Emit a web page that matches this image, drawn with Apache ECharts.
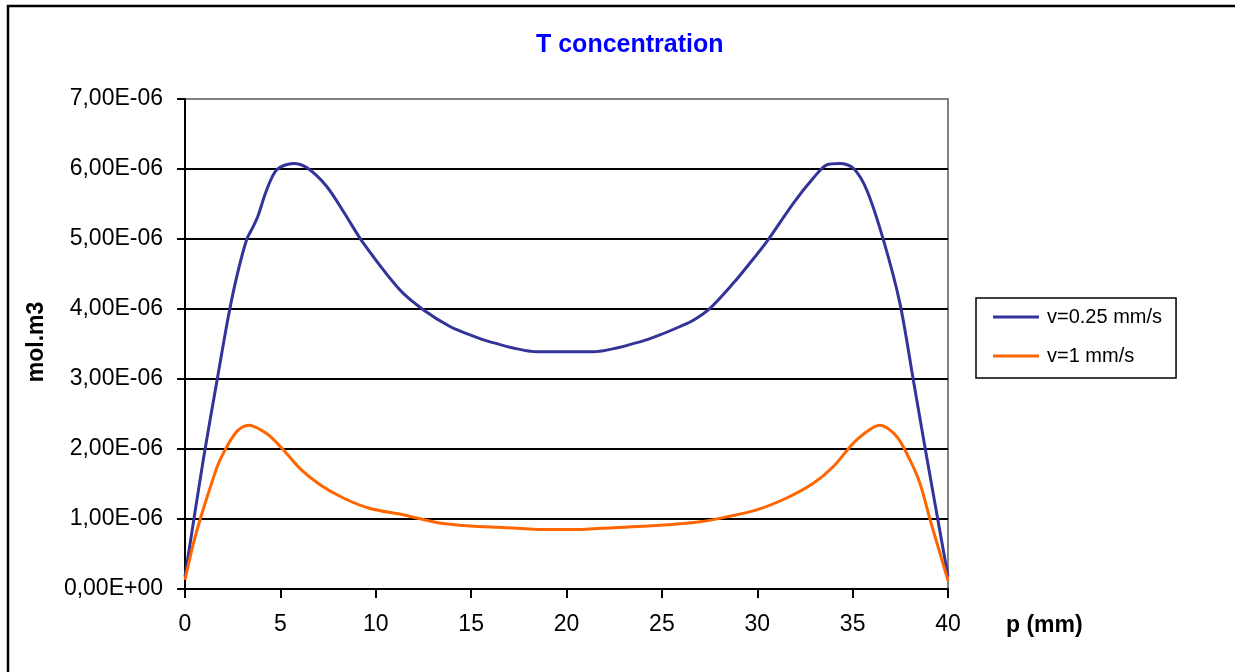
<!DOCTYPE html>
<html>
<head>
<meta charset="utf-8">
<script src="https://cdn.jsdelivr.net/npm/echarts@6/dist/echarts.min.js"></script>
<style>
html,body{margin:0;padding:0;background:#fff;}
#main{width:1235px;height:672px;}
</style>
</head>
<body>
<div id="main"></div>
<script>
// T concentration profile
var myChart = echarts.init(document.getElementById('main'));

var title = "T concentration";
var legendData = ['v=0.25 mm/s', 'v=1 mm/s'];
var xTicks = [0, 5, 10, 15, 20, 25, 30, 35, 40];
// y values are in units of 1E-06 mol.m3
var yTicks = [0, 1, 2, 3, 4, 5, 6, 7];

var pBlue = [0, 0.96, 1.66, 2.27, 2.71, 3.23, 3.58, 3.84, 4.28, 4.81, 5.68, 6.38, 7.43, 8.4, 9.35, 11.27, 12.49, 13.89, 14.94, 15.99, 18.44, 21.4,
    23.85, 24.9, 25.95, 26.65, 27.52, 28.75, 29.45, 30.49, 31.89, 32.94, 33.64, 34.34, 35.04, 35.74, 36.61, 37.48, 38.18, 38.88, 40];
var vBlue = [0.18, 1.85, 2.95, 3.89, 4.46, 4.99, 5.18, 5.34, 5.70, 5.99, 6.08, 6.02, 5.75, 5.35, 4.94, 4.27, 3.99, 3.75, 3.63, 3.53, 3.39, 3.39,
    3.53, 3.63, 3.75, 3.84, 4.01, 4.37, 4.60, 4.96, 5.51, 5.87, 6.06, 6.08, 6.01, 5.70, 4.99, 4.08, 2.99, 1.89, 0.18];

var pOrange = [0, 0.44, 0.79, 1.31, 1.83, 2.71, 3.32, 4.28, 5.15, 6.03, 7.08, 8.30, 9.70, 11.44, 13.19, 14.94, 16.69, 18.78, 20.88, 21.4,
    24.9, 27.0, 28.4, 29.97, 31.54, 32.94, 33.99, 35.21, 36.43, 37.31, 38.01, 38.53, 39.06, 39.58, 40];
var vOrange = [0.13, 0.65, 0.99, 1.44, 1.84, 2.25, 2.34, 2.22, 1.99, 1.72, 1.49, 1.30, 1.15, 1.06, 0.95, 0.90, 0.88, 0.85, 0.85, 0.86,
    0.91, 0.96, 1.03, 1.13, 1.30, 1.51, 1.75, 2.13, 2.34, 2.18, 1.84, 1.51, 0.99, 0.51, 0.12];

var colors = ['#333399', '#FF6600'];

function pairs(xs, ys) {
    var out = [];
    for (var i = 0; i < xs.length; i++) out.push([xs[i], ys[i]]);
    return out;
}

function expLabel(v) {
    if (Math.abs(v) < 1e-9) return '0,00E+00';
    return v.toFixed(2).replace('.', ',') + 'E-06';
}

var font = 'Liberation Sans, Arial, sans-serif';
// last split line (top edge) is grey like the plot border
var splitColors = yTicks.map(function (t, i) { return i === yTicks.length - 1 ? '#808080' : '#000'; });

var option = {
    backgroundColor: '#fff',
    animation: false,
    color: colors,
    title: {
        text: title, left: 536, top: 33, padding: 0,
        textStyle: { color: '#0000FF', fontFamily: font, fontWeight: 'bold', fontSize: 25 }
    },
    legend: {
        data: legendData, orient: 'vertical', left: 976, top: 298,
        padding: [9, 14, 12, 17], itemGap: 19,
        itemWidth: 46, itemHeight: 3, icon: 'rect',
        borderColor: '#000', borderWidth: 1.5, backgroundColor: '#fff',
        textStyle: { color: '#000', fontFamily: font, fontSize: 20, padding: [0, 0, 0, 3] }
    },
    grid: { left: 185, right: 287, top: 99, bottom: 83, show: true, borderColor: '#808080', borderWidth: 2, backgroundColor: '#fff' },
    xAxis: {
        type: 'value', min: xTicks[0], max: xTicks[xTicks.length - 1], interval: 5,
        axisLine: { show: true, lineStyle: { color: '#000', width: 2 } },
        axisTick: { show: true, length: 9, lineStyle: { color: '#000', width: 2 } },
        axisLabel: { color: '#000', fontFamily: font, fontSize: 23, margin: 24 },
        splitLine: { show: false }
    },
    yAxis: {
        type: 'value', min: yTicks[0], max: yTicks[yTicks.length - 1], interval: 1,
        axisLine: { show: true, lineStyle: { color: '#000', width: 2 } },
        axisTick: { show: true, length: 8, lineStyle: { color: '#000', width: 2 } },
        axisLabel: { color: '#000', fontFamily: font, fontSize: 23, margin: 22, formatter: expLabel },
        splitLine: { show: true, lineStyle: { color: splitColors, width: 2 } }
    },
    graphic: [
        { type: 'rect', shape: { x: 8, y: 6, width: 1300, height: 800 }, style: { fill: 'none', stroke: '#000', lineWidth: 2.5 }, silent: true },
        { type: 'text', x: 37, y: 342, rotation: Math.PI / 2,
          style: { text: 'mol.m3', fill: '#000', font: 'bold 23px ' + font, textAlign: 'center', textVerticalAlign: 'middle' } },
        { type: 'text', x: 1006, y: 626,
          style: { text: 'p (mm)', fill: '#000', font: 'bold 23px ' + font, textAlign: 'left', textVerticalAlign: 'middle' } }
    ],
    series: [
        { name: legendData[0], type: 'line', data: pairs(pBlue, vBlue), showSymbol: false, smooth: 0.3,
          lineStyle: { color: colors[0], width: 3 }, z: 3 },
        { name: legendData[1], type: 'line', data: pairs(pOrange, vOrange), showSymbol: false, smooth: 0.3,
          lineStyle: { color: colors[1], width: 3 }, z: 4 }
    ]
};

myChart.setOption(option);
</script>
</body>
</html>
